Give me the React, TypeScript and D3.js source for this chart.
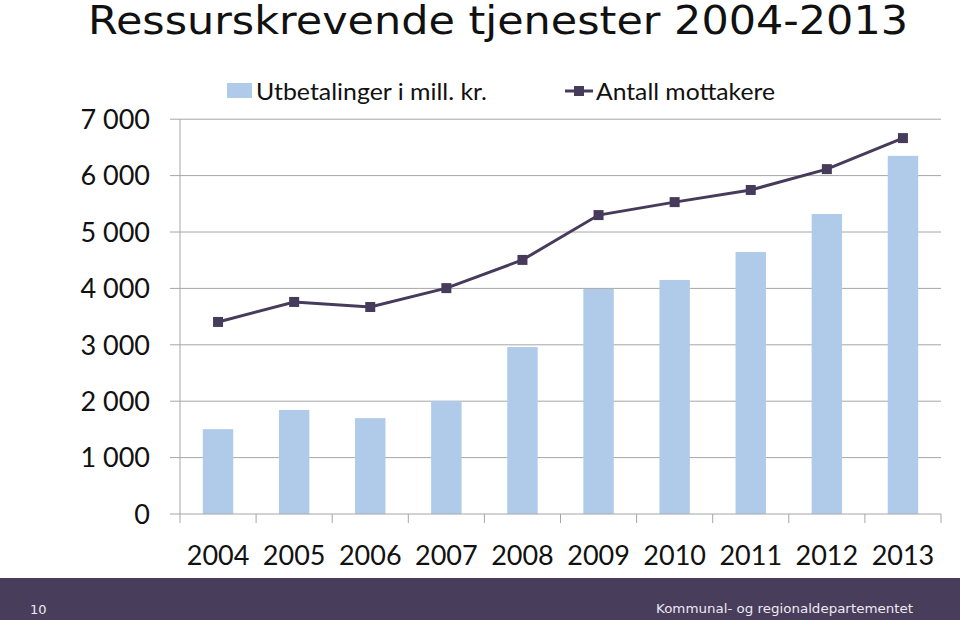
import React from "react";
import * as d3 from "d3";

const years = ["2004", "2005", "2006", "2007", "2008", "2009", "2010", "2011", "2012", "2013"];
const payments = [1505, 1845, 1700, 2005, 2960, 3990, 4150, 4645, 5320, 6350];
const recipients = [3405, 3760, 3670, 4005, 4505, 5300, 5530, 5745, 6115, 6665];
const yTicks = [0, 1000, 2000, 3000, 4000, 5000, 6000, 7000];
const title = "Ressurskrevende tjenester 2004-2013";
const barLegend = "Utbetalinger i mill. kr.";
const lineLegend = "Antall mottakere";
const footerLeft = "10";
const footerRight = "Kommunal- og regionaldepartementet";

const W = 960;
const H = 620;
const left = 180;
const right = 941;
const top = 119.2;
const bottom = 514;

const BAR = "#B0CBE9";
const LINE = "#473B5C";
const GRID = "#A6A6A6";
const FOOT = "#483D5B";
const FONT = "Lato, 'Open Sans', sans-serif";

export default function App() {
  const x = d3.scaleBand<string>().domain(years).range([left, right]).paddingInner(0).paddingOuter(0);
  const y = d3.scaleLinear().domain([0, 7000]).range([bottom, top]);
  const bw = x.bandwidth() * 0.4;
  const line = d3
    .line<number>()
    .x((_, i) => (x(years[i]) as number) + x.bandwidth() / 2)
    .y((d) => y(d));
  const fmt = (v: number) => d3.format(",")(v).replace(/,/g, " ");
  const ms = 10;

  return (
    <svg width={W} height={H} style={{ position: "absolute", left: 0, top: 0, background: "#fff" }}>
      <text x={88} y={34} fontFamily="'DejaVu Sans', Verdana, sans-serif" fontSize={39} fill="#111" textLength={820} lengthAdjust="spacingAndGlyphs">
        {title}
      </text>

      {yTicks.map((t) => (
        <g key={t}>
          {t > 0 && <line x1={170} x2={right} y1={y(t)} y2={y(t)} stroke={GRID} strokeWidth={1} />}
          <text x={150} y={y(t)} dy="0.36em" textAnchor="end" fontFamily={FONT} fontSize={27} fill="#111">
            {fmt(t)}
          </text>
        </g>
      ))}

      {payments.map((v, i) => (
        <rect
          key={years[i]}
          x={(x(years[i]) as number) + (x.bandwidth() - bw) / 2}
          y={y(v)}
          width={bw}
          height={bottom - y(v)}
          fill={BAR}
        />
      ))}

      <line x1={left} x2={left} y1={top} y2={bottom + 9} stroke={GRID} strokeWidth={1} />
      <line x1={170} x2={right} y1={bottom} y2={bottom} stroke={GRID} strokeWidth={1} />
      {years.map((yr) => (
        <line key={"t" + yr} x1={(x(yr) as number) + x.bandwidth()} x2={(x(yr) as number) + x.bandwidth()} y1={bottom} y2={bottom + 9} stroke={GRID} strokeWidth={1} />
      ))}
      {years.map((yr) => (
        <text key={"l" + yr} x={(x(yr) as number) + x.bandwidth() / 2} y={565} textAnchor="middle" fontFamily={FONT} fontSize={27} fill="#111">
          {yr}
        </text>
      ))}

      <path d={line(recipients) || ""} fill="none" stroke={LINE} strokeWidth={3} />
      {recipients.map((v, i) => (
        <rect
          key={"m" + i}
          x={(x(years[i]) as number) + x.bandwidth() / 2 - ms / 2}
          y={y(v) - ms / 2}
          width={ms}
          height={ms}
          fill={LINE}
        />
      ))}

      <rect x={227} y={83} width={25} height={15} fill={BAR} />
      <text x={256} y={100} fontFamily={FONT} fontSize={23} fill="#111" textLength={231} lengthAdjust="spacingAndGlyphs">
        {barLegend}
      </text>
      <line x1={565} x2={593} y1={91} y2={91} stroke={LINE} strokeWidth={3} />
      <rect x={574} y={86} width={10} height={10} fill={LINE} />
      <text x={596} y={100} fontFamily={FONT} fontSize={23} fill="#111" textLength={179} lengthAdjust="spacingAndGlyphs">
        {lineLegend}
      </text>

      <rect x={0} y={578} width={W} height={H - 578} fill={FOOT} />
      <text x={30} y={614} fontFamily="'DejaVu Sans', Verdana, sans-serif" fontSize={13} fill="#EDEAF2">
        {footerLeft}
      </text>
      <text x={656} y={613} fontFamily="'DejaVu Sans', Verdana, sans-serif" fontSize={12.5} fill="#EDEAF2" textLength={257} lengthAdjust="spacingAndGlyphs">
        {footerRight}
      </text>
    </svg>
  );
}
